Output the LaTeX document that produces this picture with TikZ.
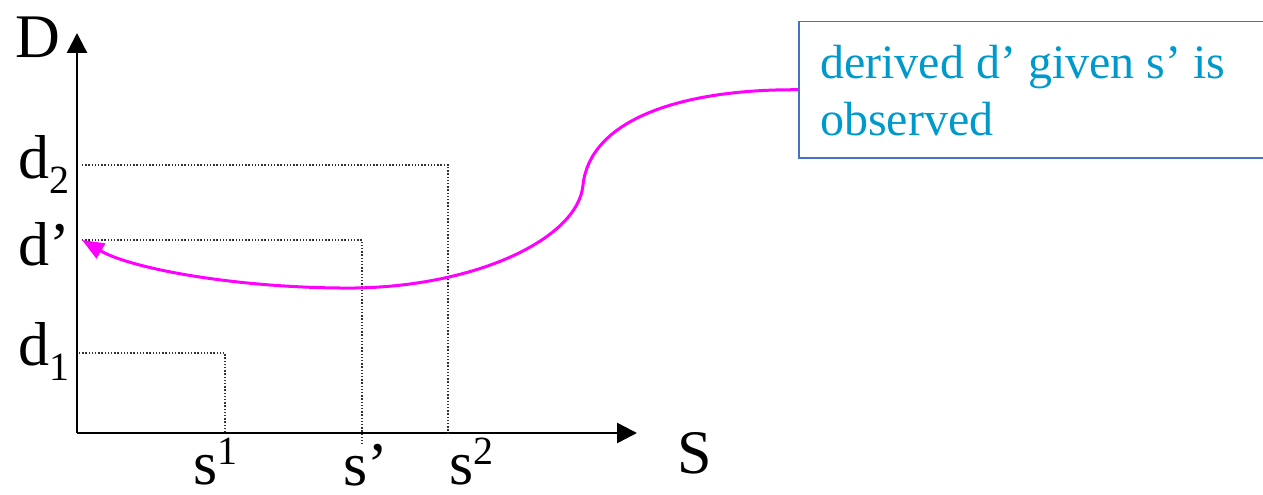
\documentclass[tikz,border=0pt]{standalone}
\usepackage{fontspec}
\setmainfont{Liberation Serif}
\usetikzlibrary{arrows.meta}
\definecolor{magentaline}{RGB}{255,0,255}
\definecolor{notetext}{RGB}{0,153,204}
\definecolor{boxblue}{RGB}{68,114,196}
\newcommand{\biglbl}{\fontsize{62}{62}\selectfont}
\newcommand{\smalllbl}{\fontsize{40}{40}\selectfont}
\newcommand{\notefont}{\fontsize{48}{57}\selectfont}
\newcommand{\subs}[1]{\raisebox{-15pt}{\smalllbl #1}}
\newcommand{\sups}[1]{\raisebox{20pt}{\smalllbl #1}}
\begin{document}
\begin{tikzpicture}[x=1pt,y=-1pt,
  axis/.style={line width=2.5pt,-{Triangle[length=20pt,width=20pt]}},
  guide/.style={line width=1.4pt,dash pattern=on 1.4pt off 1.8pt,black!80},
  lbl/.style={inner sep=0pt,anchor=base west,font=\biglbl},
  notebox/.style={draw=boxblue,line width=1.5pt,anchor=north west,inner sep=0pt,minimum width=470pt,minimum height=136pt},
  notetxt/.style={inner sep=0pt,anchor=base west,text=notetext,font=\notefont},
  link/.style={magentaline,line width=3pt,-{Triangle[length=22pt,width=17pt]}}]
\useasboundingbox (0,0) rectangle (1263,495);
% axes
\coordinate (O) at (77,433);
\coordinate (Dtop) at (77,33);
\coordinate (Send) at (637,433);
\draw[axis] (O) -- (Dtop);
\draw[axis] (O) -- (Send);
% guide lines
\coordinate (d2a) at (82,165);
\coordinate (d2b) at (448,165);
\coordinate (s2a) at (448,433);
\coordinate (dpa) at (82,240);
\coordinate (dpb) at (362,240);
\coordinate (spa) at (362,444);
\coordinate (d1a) at (79,353);
\coordinate (d1b) at (225,353);
\coordinate (s1a) at (225,433);
\draw[guide] (d2a) -- (d2b) -- (s2a);
\draw[guide] (dpa) -- (dpb) -- (spa);
\draw[guide] (d1a) -- (d1b) -- (s1a);
% labels
\node[lbl] (D) at (15,57) {D};
\node[lbl] (d2) at (18,178) {d\subs{2}};
\node[lbl] (dp) at (18,265) {d’};
\node[lbl] (d1) at (18,365) {d\subs{1}};
\node[lbl,text depth=0pt] (s1) at (193,484) {s\sups{1}};
\node[lbl,text depth=0pt] (sp) at (343,485) {s’};
\node[lbl,text depth=0pt] (s2) at (449,484) {s\sups{2}};
\node[lbl] (S) at (677,473) {S};
% note box
\node[notebox] (box) at (798,21) {};
\node[notetxt] (note1) at (820,78) {derived d’ given s’ is};
\node[notetxt] (note2) at (820,135) {observed};
% connector
\draw[link] (box.west) .. controls (680,89) and (590,120) .. (583,185)
  .. controls (578,240) and (470,290) .. (340,288)
  .. controls (230,287) and (130,268) .. (dpa);
\end{tikzpicture}
\end{document}
